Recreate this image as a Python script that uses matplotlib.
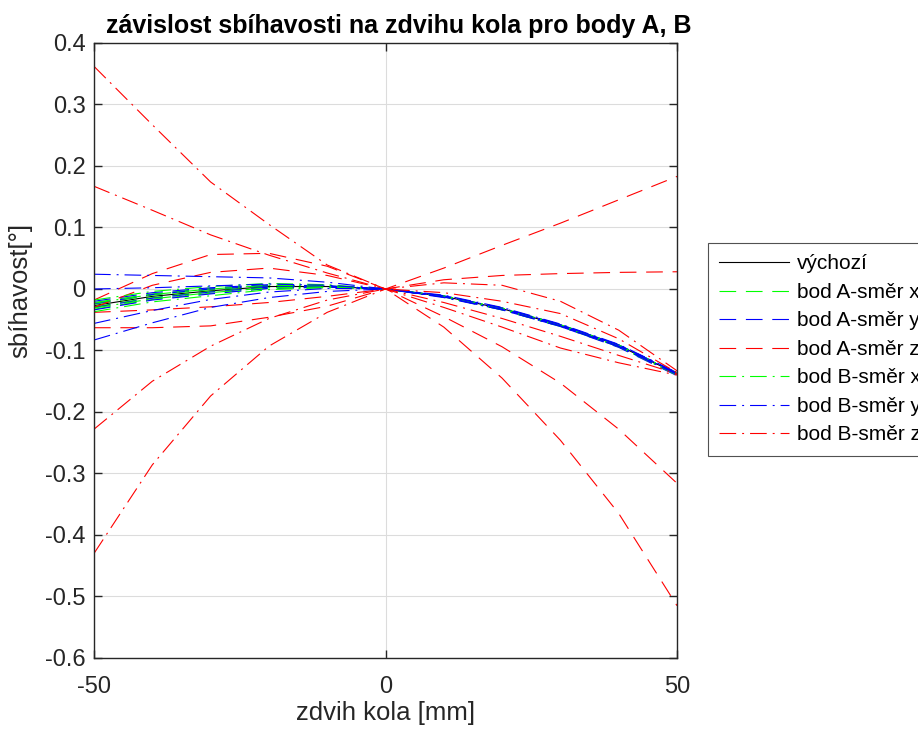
import matplotlib
matplotlib.use("Agg")
import matplotlib.pyplot as plt

plt.rcParams['font.family'] = ['Liberation Sans', 'DejaVu Sans']
plt.rcParams['lines.scale_dashes'] = False

# ---- data ----
x = [-50, -40, -30, -20, -10, 0, 10, 20, 30, 40, 50]

vychozi = [-0.027, -0.012, -0.003, 0.004, 0.004, 0, -0.012, -0.032, -0.059, -0.092, -0.138]

A_x = [
    [-0.022, -0.008, 0.001, 0.006, 0.005, 0, -0.012, -0.031, -0.058, -0.091, -0.137],
    [-0.025, -0.010, -0.001, 0.005, 0.004, 0, -0.012, -0.032, -0.059, -0.092, -0.138],
    [-0.029, -0.014, -0.004, 0.003, 0.004, 0, -0.012, -0.032, -0.059, -0.093, -0.139],
    [-0.033, -0.017, -0.007, 0.001, 0.003, 0, -0.013, -0.033, -0.060, -0.094, -0.140],
]
A_y = [
    [-0.020, -0.006, 0.002, 0.007, 0.005, 0, -0.011, -0.031, -0.058, -0.091, -0.136],
    [-0.024, -0.009, 0.000, 0.005, 0.005, 0, -0.012, -0.032, -0.059, -0.092, -0.138],
    [-0.030, -0.015, -0.005, 0.003, 0.004, 0, -0.012, -0.033, -0.060, -0.093, -0.139],
    [-0.034, -0.018, -0.008, 0.001, 0.003, 0, -0.013, -0.034, -0.061, -0.095, -0.141],
]
A_z = [
    [-0.063, -0.063, -0.060, -0.046, -0.028, 0, 0.034, 0.071, 0.107, 0.145, 0.183],
    [-0.038, -0.034, -0.029, -0.022, -0.012, 0, 0.015, 0.022, 0.025, 0.027, 0.028],
    [-0.030, 0.006, 0.027, 0.034, 0.022, 0, -0.045, -0.094, -0.153, -0.228, -0.316],
    [-0.018, 0.025, 0.056, 0.058, 0.037, 0, -0.062, -0.145, -0.246, -0.365, -0.515],
]
B_x = [
    [-0.018, -0.004, 0.004, 0.009, 0.007, 0, -0.011, -0.031, -0.058, -0.091, -0.137],
    [-0.023, -0.009, 0.000, 0.006, 0.005, 0, -0.012, -0.032, -0.059, -0.092, -0.138],
    [-0.031, -0.016, -0.006, 0.002, 0.003, 0, -0.012, -0.033, -0.060, -0.093, -0.139],
    [-0.037, -0.021, -0.011, -0.001, 0.002, 0, -0.013, -0.034, -0.061, -0.094, -0.140],
]
B_y = [
    [0.024, 0.022, 0.020, 0.018, 0.011, 0, -0.014, -0.034, -0.061, -0.094, -0.139],
    [0.000, 0.002, 0.005, 0.008, 0.006, 0, -0.013, -0.033, -0.060, -0.093, -0.138],
    [-0.056, -0.035, -0.017, -0.005, 0.001, 0, -0.011, -0.031, -0.058, -0.091, -0.137],
    [-0.083, -0.055, -0.030, -0.014, -0.004, 0, -0.010, -0.030, -0.057, -0.090, -0.136],
]
B_z = [
    [0.362, 0.267, 0.174, 0.105, 0.039, 0, -0.030, -0.062, -0.096, -0.120, -0.140],
    [0.167, 0.128, 0.088, 0.055, 0.026, 0, -0.022, -0.048, -0.077, -0.108, -0.138],
    [-0.228, -0.150, -0.093, -0.048, -0.018, 0, -0.006, -0.020, -0.040, -0.081, -0.136],
    [-0.430, -0.286, -0.174, -0.093, -0.038, 0, 0.010, 0.006, -0.020, -0.067, -0.133],
]

labels = ['výchozí', 'bod A-směr x', 'bod A-směr y', 'bod A-směr z',
          'bod B-směr x', 'bod B-směr y', 'bod B-směr z']
xticks = [-50, 0, 50]
yticks = [-0.6, -0.5, -0.4, -0.3, -0.2, -0.1, 0, 0.1, 0.2, 0.3, 0.4]
ytick_labels = ['-0.6', '-0.5', '-0.4', '-0.3', '-0.2', '-0.1', '0', '0.1', '0.2', '0.3', '0.4']

# ---- figure ----
fig = plt.figure(figsize=(9.18, 7.31), dpi=100)
ax = fig.add_axes([0.1024, 0.0999, 0.6351, 0.8413])

LW = 0.8
dashed = (0, (12, 7))
dashdot = (0, (12, 4.3, 1.4, 4.3))

ax.plot(x, vychozi, color='black', lw=LW, ls='-', label=labels[0])

families = [
    (A_x, (0, 1, 0), dashed, labels[1]),
    (A_y, (0, 0, 1), dashed, labels[2]),
    (A_z, (1, 0, 0), dashed, labels[3]),
    (B_x, (0, 1, 0), dashdot, labels[4]),
    (B_y, (0, 0, 1), dashdot, labels[5]),
    (B_z, (1, 0, 0), dashdot, labels[6]),
]
for fam, col, ls, lab in families:
    for i, ys in enumerate(fam):
        ax.plot(x, ys, color=col, lw=LW, ls=ls,
                label=lab if i == 0 else '_nolegend_')

ax.set_xlim(-50, 50)
ax.set_ylim(-0.6, 0.4)
ax.set_xticks(xticks)
ax.set_xticklabels([str(v) for v in xticks])
ax.set_yticks(yticks)
ax.set_yticklabels(ytick_labels)

axc = '#262626'
ax.grid(True, color='#dcdcdc', lw=0.8)
ax.set_axisbelow(True)
for s in ax.spines.values():
    s.set_color(axc)
    s.set_linewidth(1.0)
ax.tick_params(direction='in', length=6, width=1.0, color=axc,
               top=True, right=True, labelsize=17, labelcolor=axc)
ax.tick_params(axis='x', pad=13)
ax.tick_params(axis='y', pad=6)

ax.set_xlabel('zdvih kola [mm]', fontsize=18.5, color=axc, labelpad=2)
ax.set_ylabel('sbíhavost[°]', fontsize=18.5, color=axc)
ax.yaxis.set_label_coords(-0.105, 0.598)
ax.set_title('závislost sbíhavosti na zdvihu kola pro body A, B',
             fontsize=18, fontweight='bold', color='black', pad=7, x=0.523)

leg = ax.legend(loc='upper left', bbox_to_anchor=(1.053, 0.6748),
                borderaxespad=0, fontsize=15, frameon=True, fancybox=False,
                edgecolor='#262626', handlelength=3.36, handletextpad=0.38,
                labelspacing=0.455, borderpad=0.55)
leg.get_frame().set_linewidth(0.8)

fig.savefig('out.png', dpi=100)
